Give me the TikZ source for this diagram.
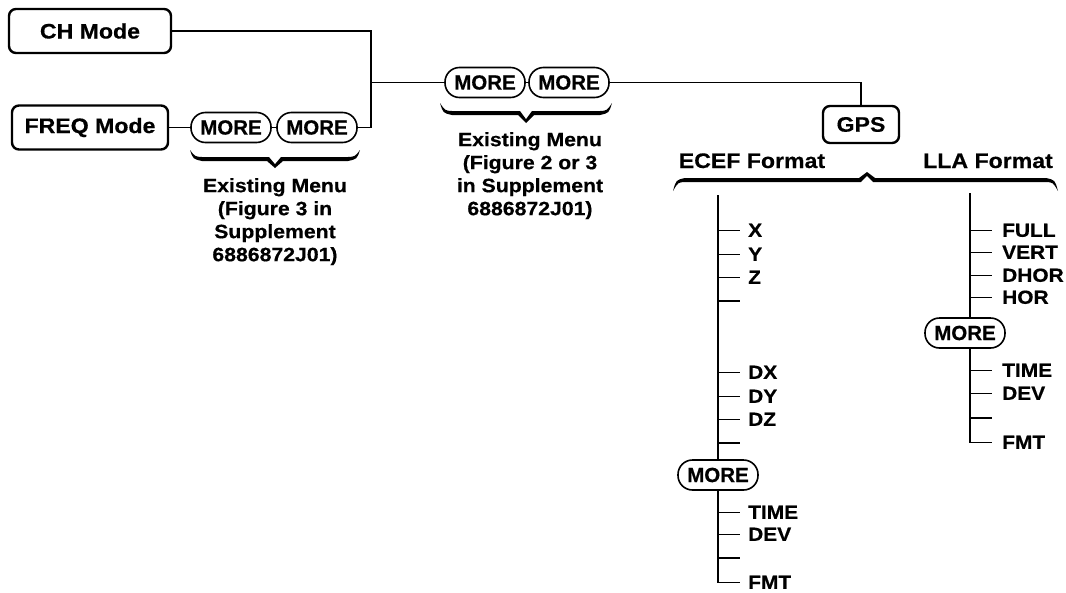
\documentclass[tikz,border=0pt]{standalone}
\usepackage{fontspec}
\setmainfont{Liberation Sans}[FakeStretch=1.1, FakeBold=0.5]
\newfontfamily\morefont{Liberation Sans}[FakeBold=0.5]
\newcommand\bracefill[7]{% xl xr yend ybody xtip ytip sign
  \fill ({#1},{#3}) .. controls ({#1+3},{#4}) .. ({#1+12},{#4+#7*2})
    -- ({#5-8},{#4+#7*2}) -- ({#5},{#6}) -- ({#5+8},{#4+#7*2})
    -- ({#2-12},{#4+#7*2}) .. controls ({#2-3},{#4}) .. ({#2},{#3})
    .. controls ({#2-5},{#4-#7*2.4}) .. ({#2-12},{#4-#7*2})
    -- ({#5+6},{#4-#7*2}) -- ({#5},{#6-#7*3.8}) -- ({#5-6},{#4-#7*2})
    -- ({#1+12},{#4-#7*2}) .. controls ({#1+5},{#4-#7*2.4}) .. cycle;}
\begin{document}
\begin{tikzpicture}[x=1pt,y=-1pt,
  mode/.style={draw, line width=2.4pt, rounded corners=7pt, inner sep=0pt,
    font=\bfseries\fontsize{21}{25}\selectfont},
  more/.style={draw, line width=1.6pt, rounded corners=14.5pt, minimum width=80pt,
    minimum height=30pt, inner sep=0pt, font=\morefont\bfseries\fontsize{20.5}{24}\selectfont},
  conn/.style={line width=1.5pt},
  item/.style={anchor=base west, inner sep=0pt, font=\bfseries\fontsize{19}{22}\selectfont},
  fmtlabel/.style={anchor=base, inner sep=0pt, font=\bfseries\fontsize{21}{25}\selectfont},
  note/.style={anchor=north, inner sep=0pt, align=center,
    font=\bfseries\fontsize{19.3}{23}\selectfont}]
\useasboundingbox (0,0) rectangle (1066,592);

% mode boxes
\node[mode, minimum width=162pt, minimum height=44pt] (ch) at (90,31) {CH Mode};
\node[mode, minimum width=156pt, minimum height=44pt] (freq) at (90,127.5) {FREQ Mode};
\node[mode, minimum width=76pt, minimum height=37pt] (gps) at (861,124.5) {GPS};

% MORE keys
\node[more] (m1) at (231,127.5) {MORE};
\node[more] (m2) at (317,127.5) {MORE};
\node[more] (m3) at (485,82.5) {MORE};
\node[more] (m4) at (569,82.5) {MORE};
\node[more] (m5) at (718,475) {MORE};
\node[more] (m6) at (965,333) {MORE};

% main connectors
\coordinate (j1) at (371,127.5);
\coordinate (j2) at (371,82.5);
\draw[conn] (ch.east) -| (j1) -- (m2.east);
\draw[conn] (freq.east) -- (m1.west);
\draw[conn] (m1.east) -- (m2.west);
\draw[conn] (j2) -- (m3.west);
\draw[conn] (m3.east) -- (m4.west);
\draw[conn] (m4.east) -| (gps.north);

% braces
\bracefill{190}{360}{150}{159}{275}{168}{1}
\bracefill{440}{612}{103}{113}{526}{123}{1}
\bracefill{673}{1058}{191}{180}{867}{172}{(-1)}

% notes
\node[note] (n1) at (275,178) {Existing Menu\\(Figure 3 in\\Supplement\\6886872J01)};
\node[note] (n2) at (530,132) {Existing Menu\\(Figure 2 or 3\\in Supplement\\6886872J01)};

% format labels
\node[fmtlabel] (ecef) at (752,168) {ECEF Format};
\node[fmtlabel] (lla) at (988,168) {LLA Format};

% ECEF tree
\coordinate (et) at (718,195);
\draw[conn] (et) -- (m5.north);
\foreach \n/\t/\y in {ex/X/230, ey/Y/254, ez/Z/277, edx/DX/372, edy/DY/396, edz/DZ/419, etime/TIME/512, edev/DEV/534}{
  \node[item] (\n) at (748,{\y+6.8}) {\t};
  \draw[conn] ([xshift=-30pt]\n.west) -- ([xshift=-8pt]\n.west);
}
\node[item] (efmt) at (748,588.8) {FMT};
\draw[conn] (m5.south) |- ([xshift=-8pt]efmt.west);
\foreach \n/\y in {eb1/301, eb2/443, eb3/558}{
  \coordinate (\n) at (718,\y);
  \draw[conn] (\n) -- ++(22,0);
}

% LLA tree
\coordinate (lt) at (970,193);
\draw[conn] (lt) -- (lt |- m6.north);
\foreach \n/\t/\y in {lfull/FULL/230, lvert/VERT/252, ldhor/DHOR/275, lhor/HOR/297, ltime/TIME/370, ldev/DEV/393}{
  \node[item] (\n) at (1002,{\y+6.8}) {\t};
  \draw[conn] ([xshift=-32pt]\n.west) -- ([xshift=-10pt]\n.west);
}
\node[item] (lfmt) at (1002,448.8) {FMT};
\draw[conn] (lt |- m6.south) |- ([xshift=-10pt]lfmt.west);
\coordinate (lb1) at (970,418);
\draw[conn] (lb1) -- ++(22,0);
\end{tikzpicture}
\end{document}
